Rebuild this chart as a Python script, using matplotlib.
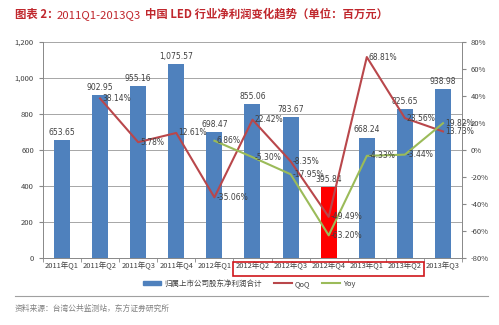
import matplotlib
matplotlib.use("Agg")
import matplotlib.pyplot as plt
import matplotlib.transforms as mtransforms
from matplotlib.patches import Rectangle
from matplotlib.lines import Line2D
import numpy as np

plt.rcParams['font.family'] = ['Noto Sans CJK SC', 'DejaVu Sans']

categories = ["2011年Q1", "2011年Q2", "2011年Q3", "2011年Q4", "2012年Q1", "2012年Q2",
              "2012年Q3", "2012年Q4", "2013年Q1", "2013年Q2", "2013年Q3"]
profit = [653.65, 902.95, 955.16, 1075.57, 698.47, 855.06, 783.67, 395.84, 668.24, 825.65, 938.98]
qoq = [None, 38.14, 5.78, 12.61, -35.06, 22.42, -8.35, -49.49, 68.81, 23.56, 13.73]
yoy = [None, None, None, None, 6.86, -5.30, -17.95, -63.20, -4.33, -3.44, 19.82]
highlight_index = 7
box_range = (5, 9)

bar_color = "#4F81BD"
hl_color = "#FF0000"
qoq_color = "#B9474B"
yoy_color = "#9BBB59"
txt = "#404040"

fig = plt.figure(figsize=(4.99, 3.25), dpi=100)
ax = fig.add_axes([0.086, 0.206, 0.840, 0.665])
ax2 = ax.twinx()

x = np.arange(len(categories))
colors = [hl_color if i == highlight_index else bar_color for i in range(len(categories))]
ax.bar(x, profit, width=0.42, color=colors, zorder=2)
ax.set_ylim(0, 1200)
ax.set_yticks(range(0, 1201, 200))
ax.set_yticklabels([f"{v:,}" for v in range(0, 1201, 200)])
ax.set_xlim(-0.5, len(categories) - 0.5)
ax.grid(axis='y', color='#A6A6A6', linewidth=0.7, zorder=0)
ax.set_axisbelow(True)
ax.set_xticks(x)
ax.set_xticklabels(categories)
ax.set_xticks(np.arange(-0.5, len(categories), 1), minor=True)
ax.tick_params(axis='x', which='major', length=0, labelsize=5.4, colors=txt, pad=3)
ax.tick_params(axis='x', which='minor', length=3, color='#888888')
ax.tick_params(axis='y', labelsize=5.5, colors=txt, length=3, color='#888888')
for s in ['top', 'right']:
    ax.spines[s].set_visible(False)
for s in ['left', 'bottom']:
    ax.spines[s].set_color('#888888')
    ax.spines[s].set_linewidth(0.7)

for i, v in enumerate(profit):
    ax.text(i, v + 18, f"{v:,.2f}", ha='center', va='bottom', fontsize=5.5, color=txt,
            family=['DejaVu Sans'])

qx = [i for i, v in enumerate(qoq) if v is not None]
qv = [v for v in qoq if v is not None]
yx = [i for i, v in enumerate(yoy) if v is not None]
yv = [v for v in yoy if v is not None]
ax2.plot(qx, qv, color=qoq_color, linewidth=1.5, zorder=3)
ax2.plot(yx, yv, color=yoy_color, linewidth=1.5, zorder=3)
ax2.set_ylim(-80, 80)
ax2.set_yticks(range(-80, 81, 20))
ax2.set_yticklabels([f"{v}%" for v in range(-80, 81, 20)])
ax2.tick_params(axis='y', labelsize=5.5, colors=txt, length=3, color='#888888')
for s in ['top', 'left', 'bottom']:
    ax2.spines[s].set_visible(False)
ax2.spines['right'].set_color('#888888')
ax2.spines['right'].set_linewidth(0.7)

for i, v in zip(qx, qv):
    ax2.text(i + 0.05, v, f"{v:.2f}%", ha='left', va='center', fontsize=5.5, color=txt,
             family=['DejaVu Sans'])
for i, v in zip(yx, yv):
    ax2.text(i + 0.05, v, f"{v:.2f}%", ha='left', va='center', fontsize=5.5, color=txt,
             family=['DejaVu Sans'])

# red box around highlighted x labels
trans = mtransforms.blended_transform_factory(ax.transData, ax.transAxes)
ax.add_patch(Rectangle((box_range[0] - 0.5, -0.085), box_range[1] - box_range[0] + 1, 0.065,
                       transform=trans, fill=False, edgecolor='#D0161B', linewidth=1.2,
                       clip_on=False, zorder=5))

handles = [Rectangle((0, 0), 1, 1, color=bar_color),
           Line2D([], [], color=qoq_color, linewidth=1.5),
           Line2D([], [], color=yoy_color, linewidth=1.5)]
fig.legend(handles, ["归属上市公司股东净利润合计", "QoQ", "Yoy"], loc='center',
           bbox_to_anchor=(0.50, 0.127), ncol=3, frameon=False, fontsize=5.4,
           handlelength=2.4, handleheight=0.5, columnspacing=1.6, handletextpad=0.4,
           labelcolor=txt)

# Title
title_color = "#C0272D"
fig.text(0.030, 0.955, "图表 2：", fontsize=8.2, color=title_color, fontweight='bold', va='center')
fig.text(0.114, 0.955, "2011Q1-2013Q3", fontsize=8.2, color=title_color, va='center')
fig.text(0.290, 0.955, "中国 LED 行业净利润变化趋势（单位：百万元）", fontsize=8.2,
         color=title_color, fontweight='bold', va='center')

fig.add_artist(Line2D([0.030, 0.978], [0.090, 0.090], color='#A0A0A0', linewidth=0.8))
fig.text(0.030, 0.049, "资料来源：台湾公共监测站，东方证券研究所", fontsize=5.6, color='#808080',
         va='center')

fig.savefig("out.png", dpi=100)
